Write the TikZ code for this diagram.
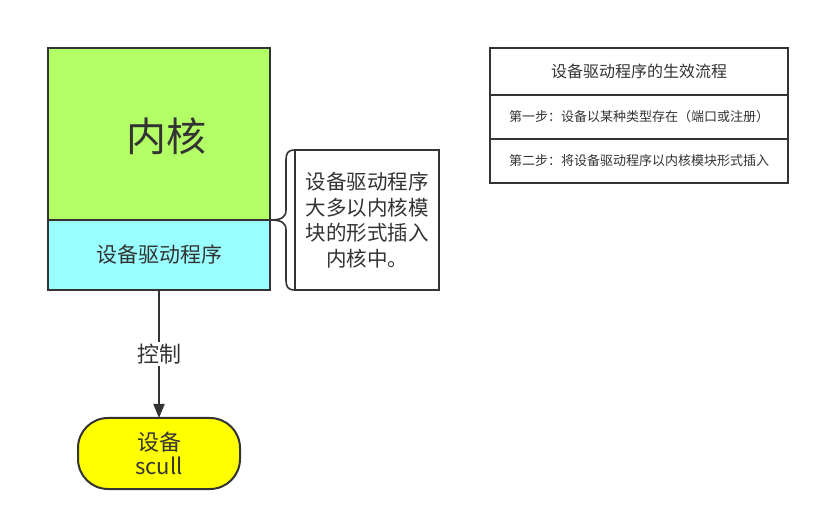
\documentclass[tikz,border=0pt]{standalone}
\usepackage{fontspec}
\setmainfont{Noto Sans CJK SC}
\usetikzlibrary{arrows.meta}
\definecolor{stroke}{HTML}{333333}
\definecolor{kgreen}{HTML}{B3FF66}
\definecolor{dcyan}{HTML}{99FFFF}
\definecolor{dyellow}{HTML}{FFFF00}
\tikzset{
  box/.style={draw=stroke, line width=2pt, inner sep=0pt, outer sep=0pt, text=stroke},
  conn/.style={draw=stroke, line width=2pt},
  fs/.style={font=\fontsize{#1}{#1}\selectfont}
}
\begin{document}
\begin{tikzpicture}[x=1pt,y=-1pt]
\useasboundingbox (0,0) rectangle (820,521);
% kernel
\node[box, fill=kgreen, minimum width=222pt, minimum height=172pt, anchor=north west] (kernel) at (48,48) {};
\node[text=stroke, fs=40, inner sep=0pt] (kernellbl) at ([xshift=7pt,yshift=-2pt]kernel.center) {内核};
\node[box, fill=dcyan, minimum width=222pt, minimum height=70pt, anchor=north west, fs=21] (driver) at (48,220) {设备驱动程序};
% device
\node[box, fill=dyellow, minimum width=162pt, minimum height=71pt, rounded corners=30pt, anchor=north, align=center, font=\fontsize{22}{24}\selectfont] (dev) at (159,418) {设备\\scull};
\draw[conn, -{Triangle[length=14pt,width=11pt]}] (driver.south) -- node[fill=white, text=stroke, inner sep=2pt, fs=22] (ctl) {控制} (dev.north);
% text box
\node[box, minimum width=144pt, minimum height=140pt, anchor=north west, align=center, font=\fontsize{20.5}{25.5}\selectfont] (note) at (295,150) {设备驱动程序\\大多以内核模\\块的形式插入\\内核中。};
% brace
\coordinate (btop) at (note.north west);
\coordinate (bbot) at (note.south west);
\coordinate (btip) at (driver.north east);
\draw[conn, line width=1.6pt, line join=round]
  (btop) .. controls (288,150) and (286,153) .. (286,160)
  -- (286,210) .. controls (286,217) and (282,220) .. (btip)
  (btip) .. controls (282,220) and (286,223) .. (286,230)
  -- (286,280) .. controls (286,287) and (288,290) .. (bbot);
% table
\node[box, minimum width=298pt, minimum height=47pt, anchor=north west, fs=16] (t1) at (490,48) {设备驱动程序的生效流程};
\node[box, minimum width=298pt, minimum height=44pt, anchor=north west, fs=13] (t2) at (490,95) {第一步：设备以某种类型存在（端口或注册）};
\node[box, minimum width=298pt, minimum height=44pt, anchor=north west, fs=13] (t3) at (490,139) {第二步：将设备驱动程序以内核模块形式插入};
\end{tikzpicture}
\end{document}
